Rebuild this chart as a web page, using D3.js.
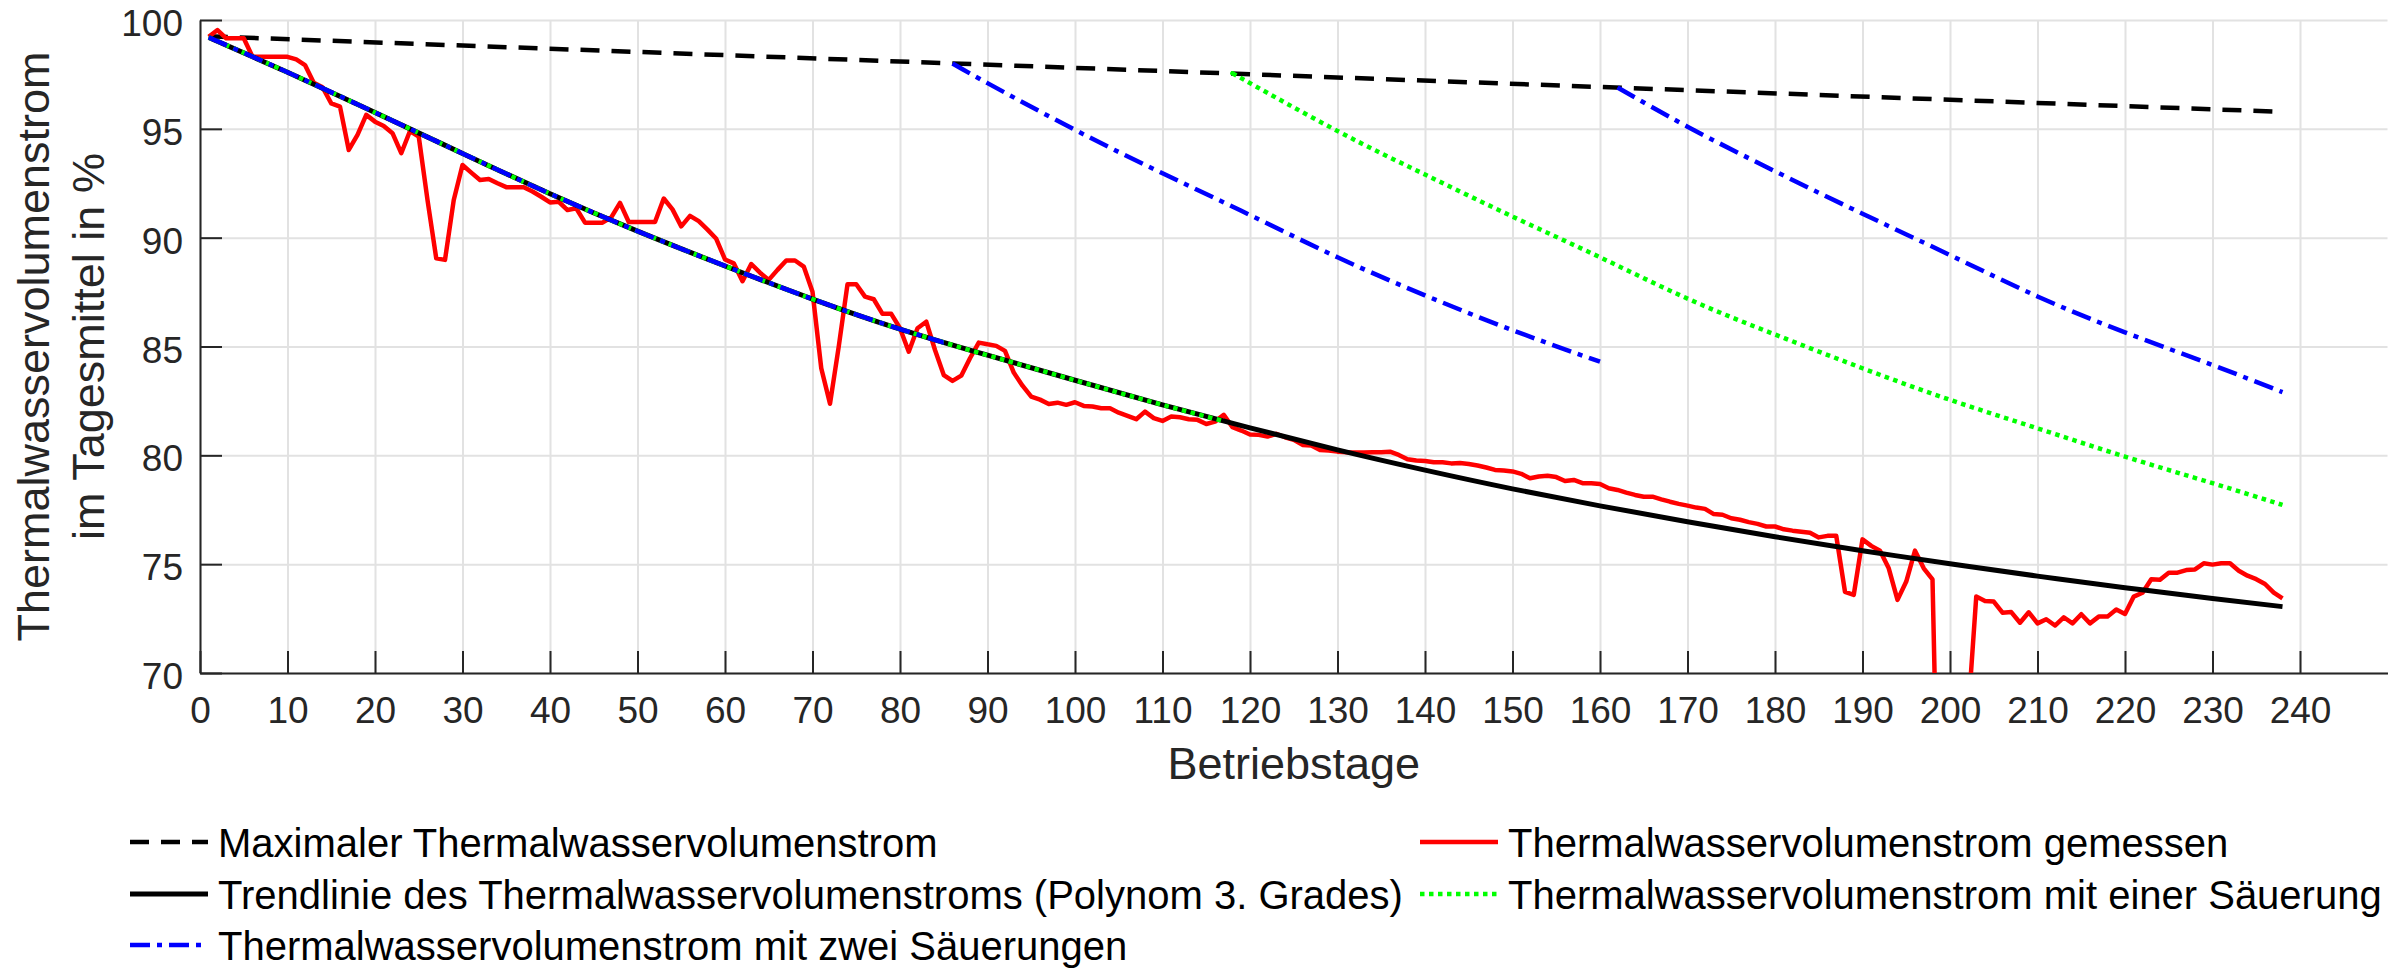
<!DOCTYPE html>
<html>
<head>
<meta charset="utf-8">
<script src="https://cdn.jsdelivr.net/npm/d3@7"></script>
<style>
  body { margin: 0; background: #fff; }
  text { font-family: "Liberation Sans", Arial, Helvetica, sans-serif; }
</style>
</head>
<body>
<div class="container"></div>
<script>
/* Data */

var xTicks = [0, 10, 20, 30, 40, 50, 60, 70, 80, 90, 100, 110, 120, 130, 140, 150, 160, 170, 180, 190, 200, 210, 220, 230, 240];
var yTicks = [70, 75, 80, 85, 90, 95, 100];

// measured daily mean, day 1 .. 238
var measured = [
  99.23, 99.54, 99.16, 99.16, 99.16, 98.31, 98.31, 98.31, 98.31, 98.31,
  98.19, 97.93, 97.12, 96.91, 96.17, 96.02, 94.03, 94.72, 95.64, 95.33,
  95.13, 94.80, 93.88, 94.90, 94.64, 91.73, 89.05, 88.98, 91.73, 93.34,
  92.99, 92.65, 92.70, 92.50, 92.32, 92.32, 92.32, 92.12, 91.88, 91.62,
  91.65, 91.27, 91.35, 90.69, 90.69, 90.69, 90.93, 91.60, 90.72, 90.72,
  90.72, 90.72, 91.80, 91.30, 90.52, 91.00, 90.76, 90.37, 89.95, 89.00,
  88.82, 88.00, 88.79, 88.39, 88.06, 88.52, 88.95, 88.95, 88.67, 87.52,
  84.00, 82.37, 85.00, 87.86, 87.86, 87.29, 87.17, 86.50, 86.50, 85.84,
  84.76, 85.84, 86.14, 84.84, 83.69, 83.42, 83.66, 84.46, 85.18, 85.10,
  85.03, 84.80, 83.80, 83.20, 82.70, 82.56, 82.36, 82.42, 82.32, 82.44,
  82.27, 82.24, 82.16, 82.16, 81.96, 81.81, 81.66, 82.01, 81.71, 81.58,
  81.78, 81.75, 81.66, 81.63, 81.44, 81.55, 81.86, 81.29, 81.14, 80.96,
  80.94, 80.86, 80.99, 80.83, 80.71, 80.48, 80.45, 80.25, 80.22, 80.17,
  80.14, 80.13, 80.13, 80.14, 80.14, 80.17, 80.02, 79.82, 79.76, 79.74,
  79.68, 79.68, 79.63, 79.65, 79.60, 79.53, 79.44, 79.33, 79.30, 79.26,
  79.15, 78.95, 79.03, 79.06, 79.00, 78.82, 78.87, 78.72, 78.72, 78.68,
  78.49, 78.41, 78.29, 78.18, 78.10, 78.10, 77.98, 77.87, 77.77, 77.69,
  77.60, 77.54, 77.30, 77.27, 77.11, 77.04, 76.93, 76.85, 76.73, 76.73,
  76.60, 76.54, 76.49, 76.44, 76.23, 76.30, 76.30, 73.73, 73.59, 76.14,
  75.84, 75.62, 74.81, 73.36, 74.20, 75.62, 74.81, 74.30, 56.00, 55.00,
  56.00, 67.70, 73.51, 73.31, 73.28, 72.77, 72.80, 72.31, 72.79, 72.28,
  72.47, 72.18, 72.56, 72.28, 72.70, 72.28, 72.59, 72.59, 72.92, 72.71,
  73.51, 73.69, 74.31, 74.28, 74.61, 74.61, 74.73, 74.76, 75.04, 74.98,
  75.04, 75.04, 74.70, 74.47, 74.31, 74.09, 73.69, 73.43
];
var firstDay = 1;

var maxDays = [1, 238];
var maxValues = [99.25, 95.78];

var trendDays = [1, 10, 20, 30, 40, 50, 60, 70, 80, 90, 100, 110, 120, 130, 140, 150, 160, 170, 180, 190, 200, 210, 220, 230, 238];
var trendValues = [99.2, 97.6, 95.75, 93.87, 92.02, 90.3, 88.7, 87.18, 85.8, 84.6, 83.45, 82.32, 81.26, 80.25, 79.32, 78.46, 77.68, 76.95, 76.26, 75.62, 75.02, 74.45, 73.92, 73.42, 73.05];

// one acidification (after day 117 the curve leaves the trend)
var oneCutDay = 117;
var oneDays = [118, 120, 130, 140, 150, 160, 170, 180, 190, 200, 210, 220, 230, 238];
var oneValues = [97.55, 97.1, 94.9, 92.9, 90.97, 89.1, 87.2, 85.55, 84.0, 82.55, 81.24, 79.94, 78.72, 77.72];

// two acidifications
var twoCutDay = 85;
var twoDaysA = [86, 90, 100, 110, 120, 130, 140, 150, 160];
var twoValuesA = [98.0, 97.1, 94.95, 92.96, 91.04, 89.1, 87.35, 85.75, 84.3];
var twoDaysB = [162, 170, 180, 190, 200, 210, 220, 230, 238];
var twoValuesB = [96.9, 95.1, 93.05, 91.1, 89.2, 87.3, 85.65, 84.15, 82.9];

var legendLabels = [
  'Maximaler Thermalwasservolumenstrom',
  'Thermalwasservolumenstrom gemessen',
  'Trendlinie des Thermalwasservolumenstroms (Polynom 3. Grades)',
  'Thermalwasservolumenstrom mit einer Säuerung',
  'Thermalwasservolumenstrom mit zwei Säuerungen'
];

function buildChart() {

  /* Chart setup */
  var w = 2403;
  var h = 970;
  var left = 200, right = 2387.5, top = 20, bottom = 673;
  var axisColor = '#262626';

  var svg = d3.select('.container')
    .append('svg')
    .attr('width', w)
    .attr('height', h);

  var xScale = d3.scaleLinear()
    .domain([0, 250])
    .range([left, right]);

  var yScale = d3.scaleLinear()
    .domain([70, 100])
    .range([bottom, top]);

  var zip = function(xs, ys) {
    return xs.map(function(x, i) { return [x, ys[i]]; });
  };

  var line = d3.line()
    .x(function(d) { return xScale(d[0]); })
    .y(function(d) { return yScale(d[1]); });

  var smooth = d3.line()
    .x(function(d) { return xScale(d[0]); })
    .y(function(d) { return yScale(d[1]); })
    .curve(d3.curveNatural);

  /* Grid */
  svg.append('g')
    .attr('transform', 'translate(0,' + bottom + ')')
    .call(d3.axisBottom(xScale).tickValues(xTicks).tickSize(-(bottom - top)).tickFormat(''))
    .call(function(g) {
      g.select('.domain').remove();
      g.selectAll('line').attr('stroke', '#e2e2e2').attr('stroke-width', 2);
    });

  svg.append('g')
    .attr('transform', 'translate(' + left + ',0)')
    .call(d3.axisLeft(yScale).tickValues(yTicks).tickSize(-(right - left)).tickFormat(''))
    .call(function(g) {
      g.select('.domain').remove();
      g.selectAll('line').attr('stroke', '#e2e2e2').attr('stroke-width', 2);
    });

  /* Axes */
  var xAxis = d3.axisBottom(xScale)
    .tickValues(xTicks)
    .tickSizeInner(-22)
    .tickSizeOuter(0)
    .tickPadding(24);

  var yAxis = d3.axisLeft(yScale)
    .tickValues(yTicks)
    .tickSizeInner(-22)
    .tickSizeOuter(0)
    .tickPadding(17);

  svg.append('g')
    .attr('transform', 'translate(0,' + bottom + ')')
    .call(xAxis)
    .call(function(g) {
      g.select('.domain').attr('stroke', axisColor).attr('stroke-width', 2);
      g.selectAll('line').attr('stroke', axisColor).attr('stroke-width', 2);
      g.selectAll('text')
        .attr('fill', axisColor)
        .style('font-size', '37px')
        .style('font-family', '"Liberation Sans", Arial, sans-serif');
    });

  svg.append('g')
    .attr('transform', 'translate(' + left + ',0)')
    .call(yAxis)
    .call(function(g) {
      g.select('.domain').attr('stroke', axisColor).attr('stroke-width', 2);
      g.selectAll('line').attr('stroke', axisColor).attr('stroke-width', 2);
      g.selectAll('text')
        .attr('fill', axisColor)
        .attr('dy', '0.42em')
        .style('font-size', '37px')
        .style('font-family', '"Liberation Sans", Arial, sans-serif');
    });

  /* Axis titles */
  svg.append('text')
    .attr('x', (left + right) / 2)
    .attr('y', 779)
    .attr('text-anchor', 'middle')
    .attr('fill', axisColor)
    .style('font-size', '45px')
    .text('Betriebstage');

  svg.append('text')
    .attr('transform', 'translate(49,' + ((top + bottom) / 2) + ') rotate(-90)')
    .attr('text-anchor', 'middle')
    .attr('fill', axisColor)
    .style('font-size', '45px')
    .text('Thermalwasservolumenstrom');

  svg.append('text')
    .attr('transform', 'translate(104,' + ((top + bottom) / 2) + ') rotate(-90)')
    .attr('text-anchor', 'middle')
    .attr('fill', axisColor)
    .style('font-size', '45px')
    .text('im Tagesmittel in %');

  /* Clip paths */
  var defs = svg.append('defs');
  defs.append('clipPath').attr('id', 'plotClip')
    .append('rect')
    .attr('x', left).attr('y', top)
    .attr('width', right - left).attr('height', bottom - top);
  defs.append('clipPath').attr('id', 'oneClip')
    .append('rect')
    .attr('x', 0).attr('y', 0)
    .attr('width', xScale(oneCutDay)).attr('height', h);
  defs.append('clipPath').attr('id', 'twoClip')
    .append('rect')
    .attr('x', 0).attr('y', 0)
    .attr('width', xScale(twoCutDay)).attr('height', h);

  var plot = svg.append('g').attr('clip-path', 'url(#plotClip)');

  var styles = {
    max:   { color: '#000000', dash: '19,12', width: 4.5 },
    meas:  { color: '#ff0000', dash: null, width: 4.5 },
    trend: { color: '#000000', dash: null, width: 5 },
    one:   { color: '#00ff00', dash: '4.5,4.5', width: 4.5 },
    two:   { color: '#0000ff', dash: '20,7,5,7', width: 4.5 }
  };

  function drawPath(g, d, st) {
    return g.append('path')
      .attr('d', d)
      .attr('fill', 'none')
      .attr('stroke', st.color)
      .attr('stroke-width', st.width)
      .attr('stroke-dasharray', st.dash)
      .attr('stroke-linejoin', 'round');
  }

  var measuredPts = measured.map(function(v, i) { return [firstDay + i, v]; });
  var trendPts = zip(trendDays, trendValues);

  drawPath(plot, line(zip(maxDays, maxValues)), styles.max);
  drawPath(plot, line(measuredPts), styles.meas);
  drawPath(plot, smooth(trendPts), styles.trend);

  drawPath(plot, smooth(trendPts), styles.one).attr('clip-path', 'url(#oneClip)');
  drawPath(plot, smooth(zip(oneDays, oneValues)), styles.one);

  drawPath(plot, smooth(trendPts), styles.two).attr('clip-path', 'url(#twoClip)');
  drawPath(plot, smooth(zip(twoDaysA, twoValuesA)), styles.two);
  drawPath(plot, smooth(zip(twoDaysB, twoValuesB)), styles.two);

  /* Legend */
  var legendStyles = [styles.max, styles.meas, styles.trend, styles.one, styles.two];
  var colX = [130, 1420];
  var rowY = [842, 894, 945];
  var sampleLen = 78;

  var legend = svg.append('g');
  legendLabels.forEach(function(label, i) {
    var cx = colX[i % 2];
    var cy = rowY[Math.floor(i / 2)];
    var st = legendStyles[i];
    legend.append('line')
      .attr('x1', cx).attr('x2', cx + sampleLen)
      .attr('y1', cy).attr('y2', cy)
      .attr('stroke', st.color)
      .attr('stroke-width', st.width)
      .attr('stroke-dasharray', st.dash);
    legend.append('text')
      .attr('x', cx + sampleLen + 10)
      .attr('y', cy + 15)
      .attr('fill', '#000')
      .style('font-size', '40px')
      .text(label);
  });
}

buildChart();
</script>
</body>
</html>
